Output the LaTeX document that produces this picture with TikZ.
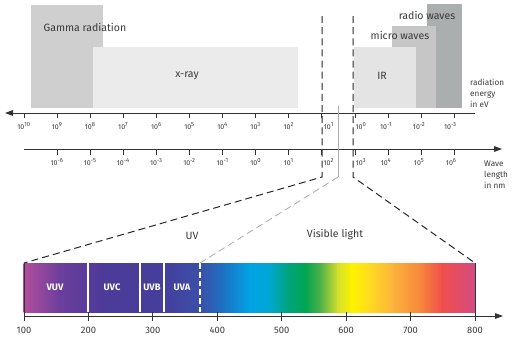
\documentclass[tikz,border=0pt]{standalone}
\usepackage{fontspec}
\setmainfont{Fira Sans}
\usepackage{tikz}
\usetikzlibrary{arrows}

\definecolor{txtgray}{HTML}{3A3A3A}
\definecolor{axisgray}{HTML}{333333}
\definecolor{gammagray}{HTML}{CFCFCF}
\definecolor{xraygray}{HTML}{EBEBEB}
\definecolor{irgray}{HTML}{E4E4E4}
\definecolor{microgray}{HTML}{C6C6C6}
\definecolor{radiogray}{HTML}{ABAEAE}
\definecolor{linkgray}{HTML}{ABABAB}
% spectrum stops, left to right
\definecolor{sp1}{HTML}{B24E9E}
\definecolor{sp2}{HTML}{6B3E9C}
\definecolor{sp3}{HTML}{4E3B99}
\definecolor{sp4}{HTML}{453E9B}
\definecolor{sp5}{HTML}{3B4FA7}
\definecolor{sp6}{HTML}{1E70C2}
\definecolor{sp7}{HTML}{00A3E4}
\definecolor{sp8}{HTML}{00A7D6}
\definecolor{sp9}{HTML}{00A47E}
\definecolor{sp10}{HTML}{00A651}
\definecolor{sp11}{HTML}{4DB04A}
\definecolor{sp12}{HTML}{D3E02C}
\definecolor{sp13}{HTML}{FFF200}
\definecolor{sp14}{HTML}{FFDD1E}
\definecolor{sp15}{HTML}{FCB43C}
\definecolor{sp16}{HTML}{F7883A}
\definecolor{sp17}{HTML}{F04E4C}
\definecolor{sp18}{HTML}{D44C82}

\begin{document}
\begin{tikzpicture}[x=0.03cm,y=-0.03cm,
  boxlabel/.style={text=txtgray,font=\fontsize{9}{10}\selectfont},
  ticklabel/.style={text=txtgray,font=\fontsize{6}{6.5}\selectfont},
  unitlabel/.style={text=txtgray,font=\fontsize{7}{9.4}\selectfont,align=left,anchor=west},
  nmlabel/.style={text=txtgray,font=\fontsize{8}{9}\selectfont},
  bandlabel/.style={text=white,font=\fontsize{8}{9}\selectfont\bfseries},
  axisline/.style={draw=axisgray,line width=0.75pt},
  zoomline/.style={draw=black!85,line width=0.85pt,dash pattern=on 6pt off 3.5pt},
  greyline/.style={draw=linkgray,line width=0.7pt}]
\tikzstyle{every node}+=[inner sep=0pt]
\useasboundingbox (0,0) rectangle (515,363);

% radiation ranges
\fill [gammagray] (31,5) rectangle (103,108);
\fill [xraygray] (93,47) rectangle (298,108);
\fill [radiogray] (427,4) rectangle (462,108);
\fill [microgray] (392,26) rectangle (436,108);
\fill [irgray] (354,47) rectangle (416,108);
\node [boxlabel] (gamma) at (85,27) {Gamma radiation};
\node [boxlabel] (xray) at (187,76) {x-ray};
\node [boxlabel] (ir) at (382,76) {IR};
\node [boxlabel] (micro) at (400,35) {micro waves};
\node [boxlabel] (radio) at (427,15) {radio waves};
\node [unitlabel] (energy) at (470,93) {radiation\\energy\\in eV};

% energy axis
\draw [axisline] (13,113) -- (475,113);
\fill [axisgray] (5,113) -- (13,110) -- (13,116);
\foreach \e/\dx [count=\i from 0] in {10/0,9/0,8/0,7/0,6/0,5/0,4/0,3/0,2/0,1/7,0/6,-1/-2,-2/-2,-3/-4} {
  \draw [axisline] (24+33.1*\i,113) -- (24+33.1*\i,118);
  \node [ticklabel] (ev\i) at (24+33.1*\i+\dx,126) {10\textsuperscript{\e}};
}

% wave length axis
\draw [axisline] (24,149) -- (495,149);
\fill [axisgray] (502,149) -- (494,146) -- (494,152);
\foreach \e/\dx [count=\i from 1] in {-6/0,-5/0,-4/0,-3/0,-2/0,-1/0,0/0,1/0,2/7,3/6,4/-2,5/-2,6/-3} {
  \draw [axisline] (24+33.1*\i,149) -- (24+33.1*\i,155);
  \node [ticklabel] (nm\i) at (24+33.1*\i+\dx,162) {10\textsuperscript{\e}};
}
\node [unitlabel] (wave) at (484,175) {Wave\\length\\in nm};

% spectrum
\foreach \xa/\xb/\ca/\cb in {24/60/sp1/sp2,60/100/sp2/sp3,100/160/sp3/sp4,160/200/sp4/sp5,
  200/222/sp5/sp6,222/250/sp6/sp7,250/268/sp7/sp8,268/288/sp8/sp9,288/305/sp9/sp10,
  305/320/sp10/sp11,320/338/sp11/sp12,338/352/sp12/sp13,352/368/sp13/sp14,368/392/sp14/sp15,
  392/420/sp15/sp16,420/442/sp16/sp17,442/475/sp17/sp18} {
  \shade [left color=\ca,right color=\cb] (\xa-0.3,263) rectangle (\xb+0.3,312);
}
\draw [white,line width=0.9pt] (88,263) -- (88,312);
\draw [white,line width=0.9pt] (140,263) -- (140,312);
\draw [white,line width=0.9pt] (164,263) -- (164,312);
\draw [white,line width=1.2pt,dash pattern=on 5pt off 2.5pt] (200,263) -- (200,312);
\node [bandlabel] (vuv) at (55,287) {VUV};
\node [bandlabel] (uvc) at (112,287) {UVC};
\node [bandlabel] (uvb) at (152,287) {UVB};
\node [bandlabel] (uva) at (182,287) {UVA};
\node [boxlabel] (uv) at (192,236) {UV};
\node [boxlabel] (visible) at (335,235) {Visible light};

% nm axis
\draw [axisline] (24,316) -- (496,316);
\fill [axisgray] (503,316) -- (495,313) -- (495,319);
\draw [axisline] (24,263) -- (24,321);
\draw [axisline] (475,263) -- (475,321);
\foreach \n [count=\k from 0] in {100,200,300,400,500,600,700,800} {
  \draw [axisline] (24+64.43*\k,312) -- (24+64.43*\k,321);
  \node [nmlabel] (l\n) at (24+64.43*\k,330) {\n};
}

% zoom lines
\coordinate (la) at (322,16);
\coordinate (lb) at (322,177);
\coordinate (ra) at (353,16);
\coordinate (rb) at (353,177);
\coordinate (ga) at (338,106);
\coordinate (gb) at (338,177);
\coordinate (lc) at (24,263);
\coordinate (rc) at (475,263);
\coordinate (gc) at (200,263);
\draw [zoomline] (la) -- (lb) -- (lc);
\draw [zoomline] (ra) -- (rb) -- (rc);
\draw [greyline] (ga) -- (gb);
\draw [greyline,dash pattern=on 6pt off 3.5pt] (gb) -- (gc);
\end{tikzpicture}
\end{document}
